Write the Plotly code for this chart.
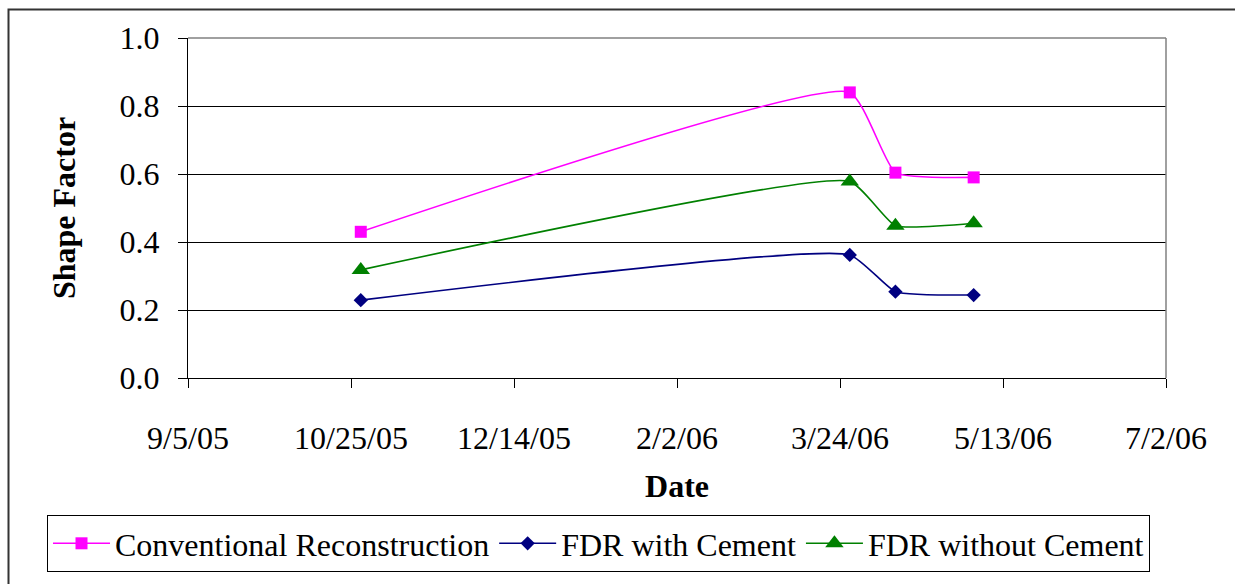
import plotly.graph_objects as go

# Survey dates and measured shape factors
dates = ["2005-10-28", "2006-03-27", "2006-04-10", "2006-05-04"]
conventional = [0.430, 0.840, 0.604, 0.590]
fdr_cement = [0.229, 0.362, 0.254, 0.244]
fdr_no_cement = [0.318, 0.578, 0.448, 0.455]

# Axis ticks
x_tick_dates = ["2005-09-05", "2005-10-25", "2005-12-14", "2006-02-02",
                "2006-03-24", "2006-05-13", "2006-07-02"]
x_tick_text = ["9/5/05", "10/25/05", "12/14/05", "2/2/06",
               "3/24/06", "5/13/06", "7/2/06"]
y_tick_vals = [0.0, 0.2, 0.4, 0.6, 0.8, 1.0]
y_tick_text = ["0.0", "0.2", "0.4", "0.6", "0.8", "1.0"]

FONT = '"Liberation Serif", "Times New Roman", Times, serif'

W, H = 1235, 584
L, R, T, B = 188, 69, 38, 206
pw, ph = W - L - R, H - T - B


def px_to_paper_x(px):
    return (px - L) / pw


def px_to_paper_y(py):
    return (H - B - py) / ph


series = [
    ("Conventional Reconstruction", conventional, "#FF00FF", "square", 12),
    ("FDR with Cement", fdr_cement, "#000080", "diamond", 11),
    ("FDR without Cement", fdr_no_cement, "#008000", "triangle-up", 16),
]

fig = go.Figure()
for name, vals, color, symbol, size in series:
    fig.add_trace(go.Scatter(
        x=dates, y=vals, name=name, mode="lines+markers",
        line=dict(color=color, width=1.6, shape="spline", smoothing=0.45),
        marker=dict(symbol=symbol, size=size, color=color,
                    line=dict(width=0)),
    ))

fig.update_layout(
    width=W, height=H,
    margin=dict(l=L, r=R, t=T, b=B, pad=0),
    paper_bgcolor="white", plot_bgcolor="white",
    font=dict(family=FONT, size=32, color="black"),
    showlegend=True,
    legend=dict(
        orientation="h",
        x=px_to_paper_x(47), xanchor="left",
        y=px_to_paper_y(515), yanchor="top",
        bordercolor="black", borderwidth=1,
        font=dict(family=FONT, size=32, color="black"),
        itemwidth=57,
    ),
    xaxis=dict(
        type="date",
        range=[x_tick_dates[0], x_tick_dates[-1]],
        tickmode="array", tickvals=x_tick_dates, ticktext=x_tick_text,
        showgrid=False, zeroline=False,
        showline=True, linecolor="black", linewidth=1,
        ticks="outside", ticklen=9, tickcolor="black", tickwidth=1,
        ticklabelstandoff=23,
        tickfont=dict(family=FONT, size=32),
        title=dict(text="<b>Date</b>", standoff=19,
                   font=dict(family=FONT, size=32)),
    ),
    yaxis=dict(
        range=[0, 1.0],
        tickmode="array", tickvals=y_tick_vals, ticktext=y_tick_text,
        showgrid=True, gridcolor="black", gridwidth=1,
        zeroline=False,
        showline=True, linecolor="black", linewidth=1,
        ticks="outside", ticklen=9, tickcolor="black", tickwidth=1,
        ticklabelstandoff=12,
        tickfont=dict(family=FONT, size=32),
        title=dict(text="<b>Shape Factor</b>", standoff=34,
                   font=dict(family=FONT, size=32)),
    ),
)

# Grey border along the top and right of the plot area
fig.add_shape(type="line", xref="paper", yref="paper", x0=0, x1=1, y0=1, y1=1,
              line=dict(color="#808080", width=1.5), layer="above")
fig.add_shape(type="line", xref="paper", yref="paper", x0=1, x1=1, y0=0, y1=1,
              line=dict(color="#808080", width=1.5), layer="above")

# Outer chart frame
fig.add_shape(type="rect", xref="paper", yref="paper",
              x0=px_to_paper_x(8.5), x1=px_to_paper_x(1260),
              y0=px_to_paper_y(620), y1=px_to_paper_y(9.5),
              line=dict(color="#333333", width=2), layer="below")

fig.write_html("out.html")
